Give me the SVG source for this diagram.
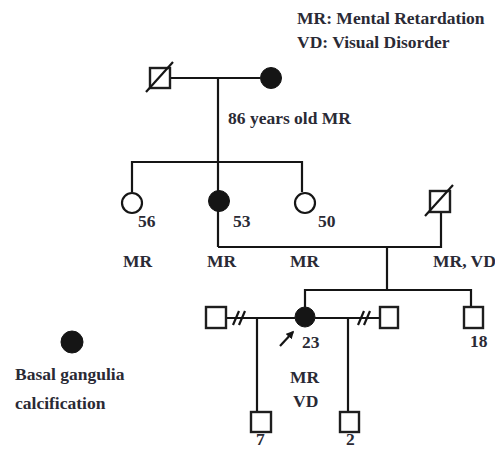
<svg xmlns="http://www.w3.org/2000/svg" width="495" height="450" viewBox="0 0 495 450">
<defs>
<style>
.ln{stroke:#151515;stroke-width:2.2;fill:none}
.sq{fill:#fff;stroke:#1e1e1e;stroke-width:2.4}
.oc{fill:#fff;stroke:#151515;stroke-width:2.2}
.fc{fill:#151515;stroke:#151515;stroke-width:1}
.t{font-family:"Liberation Serif","Times New Roman",serif;font-weight:bold;font-size:17.5px;fill:#2a2a35}
</style>
<marker id="ah" viewBox="0 0 10 10" refX="8" refY="5" markerWidth="3.6" markerHeight="3.6" orient="auto">
<path d="M0,0 L10,5 L0,10 Z" fill="#151515"/>
</marker>
</defs>
<rect width="495" height="450" fill="#fff"/>
<g id="legend-text">
<text class="t" x="297" y="24">MR: Mental Retardation</text>
<text class="t" x="297" y="48">VD: Visual Disorder</text>
</g>
<g id="connectors">
<path class="ln" d="M170,78 H260"/>
<path class="ln" d="M218,78 V247"/>
<path class="ln" d="M132,192 V162 H302 V192"/>
<path class="ln" d="M218,247 H441 V212"/>
<path class="ln" d="M387,247 V290"/>
<path class="ln" d="M305,307 V290 H471 V307"/>
<path class="ln" d="M226,318 H295 M315,318 H380"/>
<path class="ln" d="M233,325 L239,311 M239,325 L245,311"/>
<path class="ln" d="M358,325 L364,311 M364,325 L370,311"/>
<path class="ln" d="M257,318 V412"/>
<path class="ln" d="M348,318 V412"/>
<path class="ln" d="M280,346 L293,332" marker-end="url(#ah)"/>
</g>
<g id="gf">
<rect class="sq" x="150" y="68" width="20" height="20"/>
<path class="ln" d="M146,92 L173,62"/>
</g>
<g id="gm">
<circle class="fc" cx="271" cy="78" r="10.5"/>
<text class="t" x="228" y="124">86 years old MR</text>
</g>
<g id="s56">
<circle class="oc" cx="132" cy="203" r="10"/>
<text class="t" x="138" y="227">56</text>
<text class="t" x="123" y="267">MR</text>
</g>
<g id="s53">
<circle class="fc" cx="219" cy="201" r="10.5"/>
<text class="t" x="233" y="227">53</text>
<text class="t" x="207" y="267">MR</text>
</g>
<g id="s50">
<circle class="oc" cx="305" cy="203" r="10"/>
<text class="t" x="318" y="227">50</text>
<text class="t" x="290" y="267">MR</text>
</g>
<g id="husband">
<rect class="sq" x="430" y="191" width="20" height="21"/>
<path class="ln" d="M425,216 L453,185"/>
<text class="t" x="433" y="267">MR, VD</text>
</g>
<g id="p23">
<circle class="fc" cx="305" cy="317" r="10"/>
<text class="t" x="302" y="348">23</text>
<text class="t" x="290" y="383">MR</text>
<text class="t" x="293" y="407">VD</text>
</g>
<g id="s18">
<rect class="sq" x="464" y="307" width="19" height="21"/>
<text class="t" x="470" y="347">18</text>
</g>
<g id="sp1">
<rect class="sq" x="206" y="307" width="20" height="21"/>
</g>
<g id="sp2">
<rect class="sq" x="380" y="307" width="18" height="21"/>
</g>
<g id="c7">
<rect class="sq" x="251" y="412" width="20" height="20"/>
<text class="t" x="256" y="445">7</text>
</g>
<g id="c2">
<rect class="sq" x="340" y="412" width="19" height="20"/>
<text class="t" x="346" y="445">2</text>
</g>
<g id="legend">
<circle class="fc" cx="72" cy="342" r="11"/>
<text class="t" x="15" y="380">Basal gangulia</text>
<text class="t" x="15" y="409">calcification</text>
</g>
</svg>
